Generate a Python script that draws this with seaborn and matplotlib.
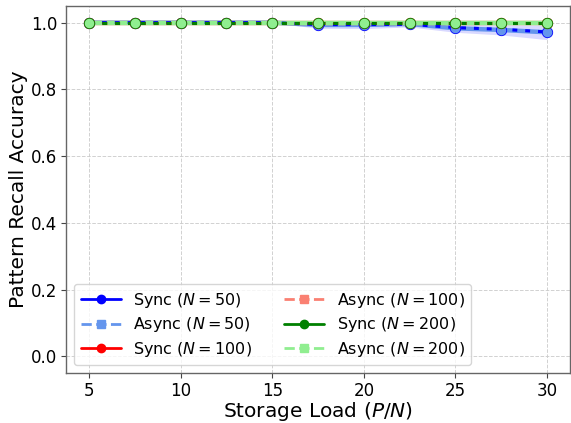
import numpy as np
import pandas as pd
import matplotlib
matplotlib.use("Agg")
import matplotlib.pyplot as plt
from matplotlib.lines import Line2D
import seaborn as sns

# Storage load values (patterns per neuron)
load = [5, 7.5, 10, 12.5, 15, 17.5, 20, 22.5, 25, 27.5, 30]

# Mean recall accuracy per network size and update rule
sync_50 = [1.0, 1.0, 1.0, 1.0, 1.0, 0.994, 0.994, 0.995, 0.985, 0.980, 0.972]
async_50 = [1.0, 1.0, 1.0, 1.0, 1.0, 0.993, 0.993, 0.996, 0.983, 0.978, 0.971]
sync_100 = [1.0, 1.0, 1.0, 1.0, 1.0, 1.0, 1.0, 1.0, 1.0, 1.0, 1.0]
async_100 = [1.0, 1.0, 1.0, 1.0, 1.0, 1.0, 1.0, 1.0, 1.0, 1.0, 1.0]
sync_200 = [1.0, 1.0, 1.0, 1.0, 1.0, 1.0, 1.0, 1.0, 1.0, 1.0, 1.0]
async_200 = [1.0, 1.0, 1.0, 1.0, 1.0, 1.0, 1.0, 1.0, 1.0, 1.0, 1.0]

# Spread across trials (standard deviation)
std_50 = [0.0, 0.0, 0.0, 0.0, 0.0, 0.010, 0.011, 0.009, 0.012, 0.015, 0.022]
std_100 = [0.0, 0.0, 0.0, 0.0, 0.0, 0.002, 0.002, 0.002, 0.003, 0.003, 0.003]
std_200 = [0.0, 0.0, 0.0, 0.0, 0.0, 0.001, 0.001, 0.001, 0.001, 0.001, 0.001]

sizes = [50, 100, 200]
sync_colors = ["blue", "red", "green"]
async_colors = ["cornflowerblue", "salmon", "lightgreen"]
sync_vals = [sync_50, sync_100, sync_200]
async_vals = [async_50, async_100, async_200]
stds = [std_50, std_100, std_200]

sns.set_style("ticks")
plt.rcParams["font.family"] = ["DejaVu Sans"]
plt.rcParams["text.color"] = "black"
plt.rcParams["axes.labelcolor"] = "black"
plt.rcParams["xtick.color"] = "black"
plt.rcParams["ytick.color"] = "black"

fig, ax = plt.subplots(figsize=(5.71, 4.23), dpi=100)

for n, sc, ac, sv, av, sd in zip(sizes, sync_colors, async_colors,
                                  sync_vals, async_vals, stds):
    df = pd.DataFrame({"load": load, "sync": sv, "async": av})
    lo = np.array(av) - np.array(sd)
    hi = np.minimum(np.array(av) + np.array(sd), 1.0)
    ax.fill_between(load, lo, hi, color=sc, alpha=0.15, linewidth=0, zorder=1)
    sns.lineplot(data=df, x="load", y="async", color=ac, linewidth=3.2,
                 ax=ax, zorder=2)
    sns.lineplot(data=df, x="load", y="sync", color=sc, linewidth=2.2,
                 linestyle=(0, (1.6, 2.6)), ax=ax, zorder=3)
    sns.lineplot(data=df, x="load", y="async", color=ac, linestyle="none",
                 marker="o", markersize=7.5, markeredgewidth=0.6,
                 markeredgecolor=sc, ax=ax, zorder=4)

ax.set_xlim(3.75, 31.25)
ax.set_ylim(-0.05, 1.05)
ax.set_xticks([5, 10, 15, 20, 25, 30])
ax.set_yticks([0.0, 0.2, 0.4, 0.6, 0.8, 1.0])
ax.tick_params(labelsize=12, color="#444444", pad=3)
ax.grid(True, linestyle="--", color="#cccccc", linewidth=0.7, alpha=0.9)
for sp in ax.spines.values():
    sp.set_color("#666666")
    sp.set_linewidth(1.0)

ax.set_xlabel("Storage Load ($P/N$)", fontsize=14.5, labelpad=0)
ax.set_ylabel("Pattern Recall Accuracy", fontsize=14.5, labelpad=2)

handles = []
for n, sc, ac in zip(sizes, sync_colors, async_colors):
    handles.append(Line2D([], [], color=sc, linestyle="-", linewidth=2,
                          marker="o", markersize=6,
                          label=f"Sync ($N={n}$)"))
    handles.append(Line2D([], [], color=ac, linestyle="--", linewidth=2,
                          marker="s", markersize=6,
                          label=f"Async ($N={n}$)"))
ax.legend(handles=handles, loc="lower left", ncol=2, fontsize=11.5,
          frameon=True, framealpha=0.8, edgecolor="#cccccc",
          handlelength=2.5, columnspacing=2.0, labelspacing=0.35,
          borderpad=0.4)

fig.subplots_adjust(left=0.116, right=0.998, top=0.986, bottom=0.118)
fig.savefig("out.png", dpi=100)
